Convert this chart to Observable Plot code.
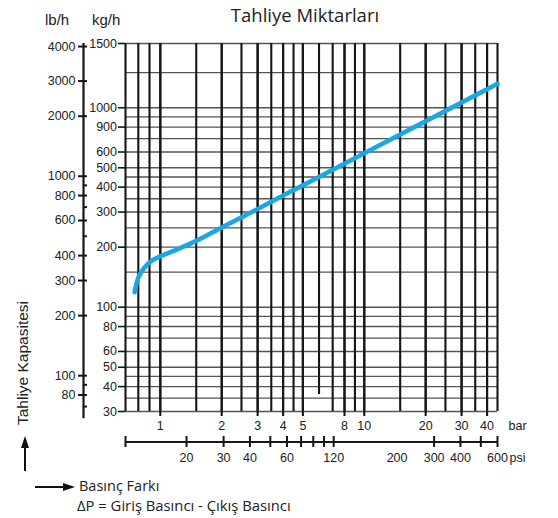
<!DOCTYPE html>
<html>
<head>
<meta charset="utf-8">
<script src="https://cdn.jsdelivr.net/npm/d3@7"></script>
<script src="https://cdn.jsdelivr.net/npm/@observablehq/plot@0.6"></script>
<style>
  html, body { margin: 0; padding: 0; background: #fff; }
  #wrap { position: relative; width: 558px; height: 518px; overflow: hidden; }
  #wrap > svg, #wrap > figure { position: absolute; left: 0; margin: 0; }
  #main { top: 0; }
  #psi { top: 430px; }
</style>
</head>
<body>
<div id="wrap"></div>
<script>
// ---------- data ----------
const barDomain = [0.675, 45];
const barGrid = [0.78, 0.885, 1, 1.5, 2, 2.5, 3, 3.5, 4, 4.5, 5, 7, 8, 9, 10, 15, 20, 25, 30, 35, 40];
const barPartial = [6];
const barPartialBottomKg = 36.5;
const barTicks = [1, 2, 3, 4, 5, 8, 10, 20, 30, 40];

const kgDomain = [30, 2100];
const kgGrid = [30, 35, 40, 45, 50, 60, 70, 80, 90, 100, 150, 200, 250, 300, 350, 400, 450, 500, 600, 700, 800, 900, 1000, 1500, 2100];
const kgTickValues = [30, 40, 50, 60, 80, 100, 200, 300, 400, 500, 600, 800, 1000, 2100];
const kgTickLabels = ["30", "40", "50", "60", "80", "100", "200", "300", "400", "500", "600", "900", "1000", "1500"];

const LB_PER_KG = 2.2046;
const lbMajorValues = [80, 100, 200, 300, 400, 600, 800, 1000, 2000, 3000, 4470];
const lbMajorLabels = ["80", "100", "200", "300", "400", "600", "800", "1000", "2000", "3000", "4000"];
const lbMinorValues = [70, 90, 500, 700, 900];

const psiDomain = [10.26, 600];
const psiTickValues = [10.26, 20, 30, 40, 50, 60, 70, 80, 90, 100, 300, 400, 500, 600];
const psiLabelValues = [20, 30, 40, 60, 100, 200, 300, 400, 600];
const psiLabels = ["20", "30", "40", "60", "120", "200", "300", "400", "600"];

const curveBar = [0.748, 0.783, 0.828, 0.893, 1, 1.18, 1.5, 2, 2.5, 3, 4, 5, 6, 10, 15, 20, 30, 45];
const curveKg  = [119, 142, 156, 169, 180, 193, 215, 251, 282, 311, 363, 408, 450, 591, 734, 856, 1062, 1319];

// ---------- derived tables ----------
const curve = curveBar.map((b, i) => ({bar: b, kg: curveKg[i]}));
const kgTicks = kgTickValues.map((v, i) => ({kg: v, label: kgTickLabels[i]}));
const lbMajor = lbMajorValues.map((v, i) => ({kg: v / LB_PER_KG, label: lbMajorLabels[i]}));
const lbMinor = lbMinorValues.map(v => ({kg: v / LB_PER_KG}));
const psiLabelRows = psiLabelValues.map((v, i) => ({psi: v, label: psiLabels[i]}));

const tickFont = "'Liberation Sans', Arial, Helvetica, sans-serif";
const blue = "#1aa7e6";
const gridH = "#555";
const gridV = "#161616";
const xLeft = () => barDomain[0];

const main = Plot.plot({
  width: 558, height: 440,
  marginTop: 43, marginBottom: 29, marginLeft: 125, marginRight: 61,
  x: {type: "log", domain: barDomain, axis: null},
  y: {type: "log", domain: kgDomain, axis: null},
  style: {fontFamily: tickFont, fontSize: "12.5px", color: "#222", background: "transparent", overflow: "visible"},
  marks: [
    Plot.ruleY(kgGrid, {stroke: gridH, strokeWidth: 1.4}),
    Plot.ruleX(barGrid, {stroke: gridV, strokeWidth: 2.1}),
    Plot.ruleX(barPartial, {y1: () => barPartialBottomKg, y2: () => kgDomain[1], stroke: gridV, strokeWidth: 2.1}),
    Plot.ruleX(barDomain, {stroke: gridV, strokeWidth: 2.1}),
    // bar ticks extending below the grid
    Plot.ruleX(barTicks, {stroke: gridV, strokeWidth: 2.1, insetBottom: -5}),
    Plot.text(barTicks, {x: d => d, y: () => kgDomain[0], dy: 14, lineAnchor: "middle", fill: "#222"}),
    Plot.text(["bar"], {x: () => barDomain[1], y: () => kgDomain[0], dx: 11, dy: 14, textAnchor: "start", lineAnchor: "middle", fill: "#222"}),
    // kg/h axis
    Plot.ruleY(kgTicks, {y: "kg", x1: xLeft, x2: xLeft, insetLeft: -7, stroke: gridV, strokeWidth: 1.6}),
    Plot.text(kgTicks, {y: "kg", x: xLeft, text: "label", dx: -8.5, textAnchor: "end", lineAnchor: "middle", fill: "#222"}),
    // lb/h axis
    Plot.ruleX([barDomain[0]], {dx: -42, y1: () => 27.6, y2: () => kgDomain[1], stroke: gridV, strokeWidth: 2.2}),
    Plot.ruleY(lbMajor, {y: "kg", x1: xLeft, x2: xLeft, insetLeft: -47, insetRight: 38, stroke: gridV, strokeWidth: 2}),
    Plot.ruleY(lbMinor, {y: "kg", x1: xLeft, x2: xLeft, insetLeft: -42, insetRight: 38, stroke: gridV, strokeWidth: 2}),
    Plot.text(lbMajor, {y: "kg", x: xLeft, text: "label", dx: -50, textAnchor: "end", lineAnchor: "middle", fill: "#222"}),
    // discharge curve
    Plot.line(curve, {x: "bar", y: "kg", stroke: blue, strokeWidth: 4.6, curve: "catmull-rom", strokeLinecap: "round"})
  ]
});
main.id = "main";

const psi = Plot.plot({
  width: 558, height: 40,
  marginTop: 6, marginBottom: 23, marginLeft: 125, marginRight: 61,
  x: {type: "log", domain: psiDomain, axis: null},
  y: {domain: [0, 1], axis: null},
  style: {fontFamily: tickFont, fontSize: "12.5px", color: "#222", background: "transparent", overflow: "visible"},
  marks: [
    Plot.ruleY([0.5], {x1: () => psiDomain[0], x2: () => psiDomain[1], stroke: gridV, strokeWidth: 2.2}),
    Plot.ruleX(psiTickValues, {stroke: gridV, strokeWidth: 2}),
    Plot.text(psiLabelRows, {x: "psi", y: () => 0, dy: 10, text: "label", lineAnchor: "middle", fill: "#222"}),
    Plot.text(["psi"], {x: () => psiDomain[1], y: () => 0, dx: 12, dy: 10, textAnchor: "start", lineAnchor: "middle", fill: "#222"})
  ]
});
psi.id = "psi";

const wrap = document.getElementById("wrap");
wrap.appendChild(main);
wrap.appendChild(psi);

// decorations: titles, unit labels, arrows
const deco = document.createElementNS("http://www.w3.org/2000/svg", "svg");
deco.setAttribute("width", 558);
deco.setAttribute("height", 518);
deco.style.position = "absolute";
deco.style.left = "0";
deco.style.top = "0";
deco.innerHTML = `
  <text x="305" y="22" text-anchor="middle" font-family="'Open Sans', sans-serif" font-size="18.5" fill="#222">Tahliye Miktarları</text>
  <text x="45" y="25" font-family="${tickFont}" font-size="15" fill="#222">lb/h</text>
  <text x="92" y="25" font-family="${tickFont}" font-size="15" fill="#222">kg/h</text>
  <text transform="translate(28,363) rotate(-90)" text-anchor="middle" font-family="${tickFont}" font-size="15.5" fill="#222">Tahliye Kapasitesi</text>
  <line x1="25" y1="471" x2="25" y2="446" stroke="#111" stroke-width="2"/>
  <polygon points="25,436 21,448 29,448" fill="#111"/>
  <line x1="35" y1="487" x2="64" y2="487" stroke="#111" stroke-width="2"/>
  <polygon points="75,487 63,483 63,491" fill="#111"/>
  <text x="79" y="491" font-family="'Open Sans', sans-serif" font-size="14.5" fill="#222">Basınç Farkı</text>
  <text x="77" y="511" font-family="'Open Sans', sans-serif" font-size="14.8" fill="#222">ΔP = Giriş Basıncı - Çıkış Basıncı</text>
`;
wrap.appendChild(deco);
</script>
</body>
</html>
